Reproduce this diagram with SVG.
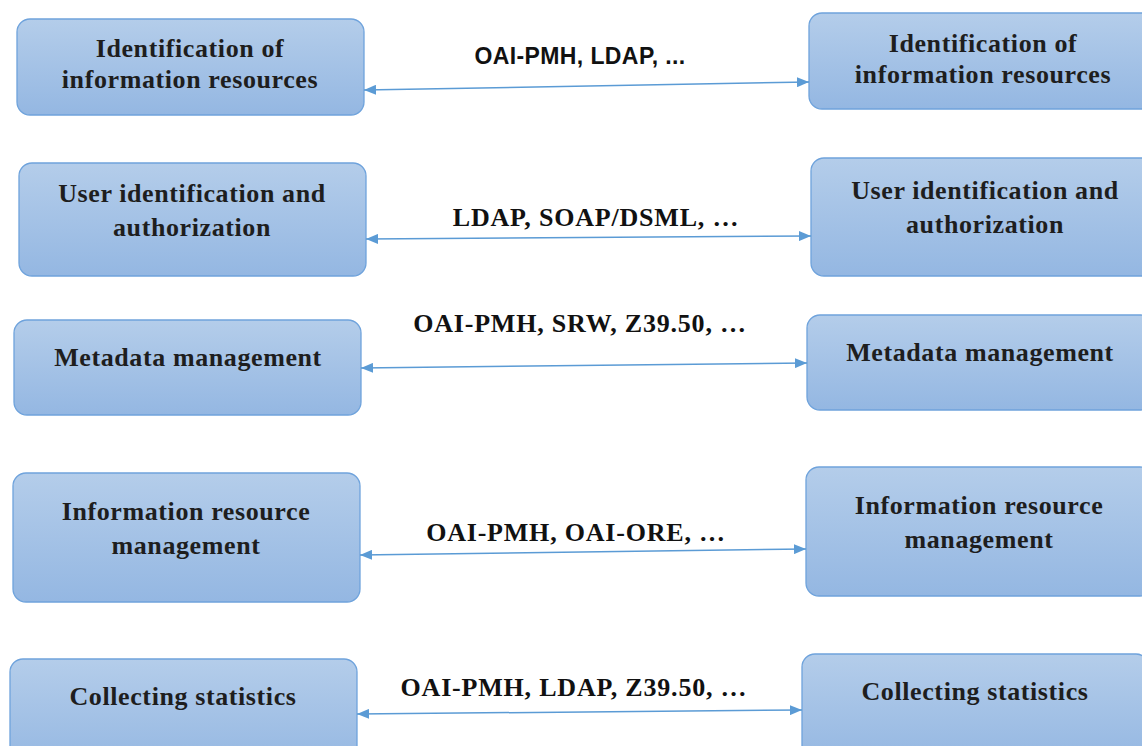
<svg xmlns="http://www.w3.org/2000/svg" width="1142" height="746" viewBox="0 0 1142 746">
<defs>
<linearGradient id="g" x1="0" y1="0" x2="0" y2="1">
<stop offset="0" stop-color="#b4cdea"/>
<stop offset="1" stop-color="#94b7e2"/>
</linearGradient>
<marker id="ah" viewBox="0 0 12 10" refX="12" refY="5" markerWidth="12" markerHeight="10" markerUnits="userSpaceOnUse" orient="auto-start-reverse">
<path d="M0,0 L12,5 L0,10 z" fill="#5b9bd5"/>
</marker>
<style>
.box{fill:url(#g);stroke:#6fa3dc;stroke-width:1.3}
.t{font-family:"Liberation Serif","Times New Roman",serif;font-weight:bold;font-size:26px;letter-spacing:0.6px;fill:#1e1e1e;text-anchor:middle}
.l{font-family:"Liberation Serif","Times New Roman",serif;font-weight:bold;font-size:26px;letter-spacing:0.8px;fill:#111;text-anchor:middle}
.ls{font-family:"Liberation Sans",Arial,sans-serif;font-weight:bold;font-size:23px;letter-spacing:0.4px;fill:#111;text-anchor:middle}
.c{stroke:#5b9bd5;stroke-width:1.5;fill:none;marker-start:url(#ah);marker-end:url(#ah)}
</style>
</defs>
<rect width="1142" height="746" fill="#fff"/>
<g id="L1"><rect class="box" x="17" y="19" width="347" height="96" rx="13"/><text class="t" x="190" y="57">Identification of</text><text class="t" x="190" y="88">information resources</text></g>
<g id="R1"><rect class="box" x="809" y="13" width="347" height="96" rx="13"/><text class="t" x="983" y="52">Identification of</text><text class="t" x="983" y="83">information resources</text></g>
<g id="L2"><rect class="box" x="19" y="163" width="347" height="113" rx="13"/><text class="t" x="192" y="202">User identification and</text><text class="t" x="192" y="236">authorization</text></g>
<g id="R2"><rect class="box" x="811" y="158" width="347" height="118" rx="13"/><text class="t" x="985" y="199">User identification and</text><text class="t" x="985" y="233">authorization</text></g>
<g id="L3"><rect class="box" x="14" y="320" width="347" height="95" rx="13"/><text class="t" x="188" y="366">Metadata management</text></g>
<g id="R3"><rect class="box" x="807" y="315" width="347" height="95" rx="13"/><text class="t" x="980" y="361">Metadata management</text></g>
<g id="L4"><rect class="box" x="13" y="473" width="347" height="129" rx="13"/><text class="t" x="186" y="520">Information resource</text><text class="t" x="186" y="554">management</text></g>
<g id="R4"><rect class="box" x="806" y="467" width="347" height="129" rx="13"/><text class="t" x="979" y="514">Information resource</text><text class="t" x="979" y="548">management</text></g>
<g id="L5"><rect class="box" x="10" y="659" width="347" height="110" rx="13"/><text class="t" x="183" y="705">Collecting statistics</text></g>
<g id="R5"><rect class="box" x="802" y="654" width="347" height="110" rx="13"/><text class="t" x="975" y="700">Collecting statistics</text></g>
<g id="connectors">
<line class="c" x1="364" y1="90" x2="809" y2="82"/>
<line class="c" x1="366" y1="239" x2="811" y2="236"/>
<line class="c" x1="361" y1="368" x2="807" y2="363"/>
<line class="c" x1="360" y1="555" x2="806" y2="549"/>
<line class="c" x1="357" y1="714" x2="802" y2="710"/>
<text class="ls" x="580" y="64">OAI-PMH, LDAP, ...</text>
<text class="l" x="596" y="226">LDAP, SOAP/DSML, …</text>
<text class="l" x="580" y="332">OAI-PMH, SRW, Z39.50, …</text>
<text class="l" x="576" y="541">OAI-PMH, OAI-ORE, …</text>
<text class="l" x="574" y="696">OAI-PMH, LDAP, Z39.50, …</text>
</g>
</svg>
